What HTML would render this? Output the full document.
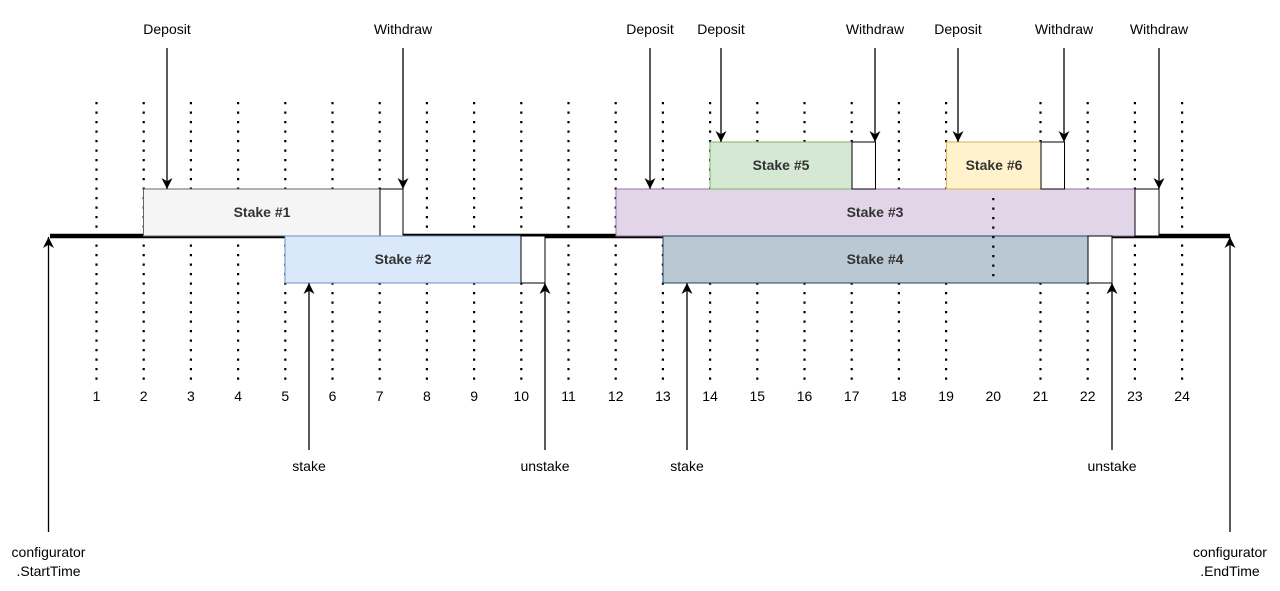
<!DOCTYPE html>
<html><head><meta charset="utf-8"><style>
html,body{margin:0;padding:0;background:#fff;}
svg{display:block;}
text{font-family:"Liberation Sans",Arial,sans-serif;}
</style></head><body>
<svg width="1280" height="591" viewBox="0 0 1280 591" xmlns="http://www.w3.org/2000/svg">
<defs>
<marker id="a" viewBox="0 0 10 10" refX="10" refY="5" markerWidth="11" markerHeight="11" orient="auto" markerUnits="userSpaceOnUse">
<path d="M0,0 L10,5 L0,10 L3,5 z" fill="#000"/>
</marker>
</defs>
<g stroke="#000" stroke-width="2.2" stroke-dasharray="2.2 7.3">
<line x1="96.5" y1="102" x2="96.5" y2="380"/>
<line x1="143.7" y1="102" x2="143.7" y2="380"/>
<line x1="190.9" y1="102" x2="190.9" y2="380"/>
<line x1="238.1" y1="102" x2="238.1" y2="380"/>
<line x1="285.3" y1="102" x2="285.3" y2="380"/>
<line x1="332.5" y1="102" x2="332.5" y2="380"/>
<line x1="379.7" y1="102" x2="379.7" y2="380"/>
<line x1="426.9" y1="102" x2="426.9" y2="380"/>
<line x1="474.1" y1="102" x2="474.1" y2="380"/>
<line x1="521.3" y1="102" x2="521.3" y2="380"/>
<line x1="568.5" y1="102" x2="568.5" y2="380"/>
<line x1="615.7" y1="102" x2="615.7" y2="380"/>
<line x1="662.9" y1="102" x2="662.9" y2="380"/>
<line x1="710.1" y1="102" x2="710.1" y2="380"/>
<line x1="757.3" y1="102" x2="757.3" y2="380"/>
<line x1="804.5" y1="102" x2="804.5" y2="380"/>
<line x1="851.7" y1="102" x2="851.7" y2="380"/>
<line x1="898.9" y1="102" x2="898.9" y2="380"/>
<line x1="946.1" y1="102" x2="946.1" y2="380"/>
<line x1="1040.5" y1="102" x2="1040.5" y2="380"/>
<line x1="1087.7" y1="102" x2="1087.7" y2="380"/>
<line x1="1134.9" y1="102" x2="1134.9" y2="380"/>
<line x1="1182.1" y1="102" x2="1182.1" y2="380"/>
</g>
<line x1="50" y1="236" x2="1230" y2="236" stroke="#000" stroke-width="4.5"/>
<rect x="143.5" y="189" width="236.5" height="47" fill="#f5f5f5" stroke="#666"/>
<rect x="380" y="189" width="23" height="47" fill="#fff" stroke="#000"/>
<rect x="285" y="236" width="236" height="47" fill="#dae8fc" stroke="#6c8ebf"/>
<rect x="521" y="236" width="24" height="47" fill="#fff" stroke="#000"/>
<rect x="616" y="189" width="519" height="47" fill="#e1d5e7" stroke="#9673a6"/>
<rect x="1135" y="189" width="24" height="47" fill="#fff" stroke="#000"/>
<rect x="663" y="236" width="425" height="47" fill="#bac8d3" stroke="#23445d"/>
<rect x="1088" y="236" width="24" height="47" fill="#fff" stroke="#000"/>
<rect x="710" y="142" width="142" height="47" fill="#d5e8d4" stroke="#82b366"/>
<rect x="852" y="142" width="23.5" height="47" fill="#fff" stroke="#000"/>
<rect x="946.5" y="142" width="94.5" height="47" fill="#fff2cc" stroke="#d6b656"/>
<rect x="1041" y="142" width="23.5" height="47" fill="#fff" stroke="#000"/>
<line x1="993.3" y1="198" x2="993.3" y2="283" stroke="#000" stroke-width="2.2" stroke-dasharray="2.2 7.3"/>
<g font-weight="bold" font-size="14" fill="#333" text-anchor="middle">
<text x="262" y="217">Stake #1</text>
<text x="403" y="264">Stake #2</text>
<text x="875" y="217">Stake #3</text>
<text x="875" y="264">Stake #4</text>
<text x="781" y="170">Stake #5</text>
<text x="994" y="170">Stake #6</text>
</g>
<g stroke="#000" stroke-width="1.3" marker-end="url(#a)">
<line x1="167" y1="48" x2="167" y2="189"/>
<line x1="403" y1="48" x2="403" y2="189"/>
<line x1="650" y1="48" x2="650" y2="189"/>
<line x1="721" y1="48" x2="721" y2="142"/>
<line x1="875" y1="48" x2="875" y2="142"/>
<line x1="958" y1="48" x2="958" y2="142"/>
<line x1="1064" y1="48" x2="1064" y2="142"/>
<line x1="1159" y1="48" x2="1159" y2="189"/>
<line x1="309" y1="450" x2="309" y2="283"/>
<line x1="545" y1="450" x2="545" y2="283"/>
<line x1="687" y1="450" x2="687" y2="283"/>
<line x1="1112" y1="450" x2="1112" y2="283"/>
<line x1="48.5" y1="532" x2="48.5" y2="237"/>
<line x1="1230" y1="532" x2="1230" y2="237"/>
</g>
<g font-size="14" fill="#000" text-anchor="middle">
<text x="167" y="34">Deposit</text>
<text x="403" y="34">Withdraw</text>
<text x="650" y="34">Deposit</text>
<text x="721" y="34">Deposit</text>
<text x="875" y="34">Withdraw</text>
<text x="958" y="34">Deposit</text>
<text x="1064" y="34">Withdraw</text>
<text x="1159" y="34">Withdraw</text>
<text x="309" y="471">stake</text>
<text x="545" y="471">unstake</text>
<text x="687" y="471">stake</text>
<text x="1112" y="471">unstake</text>
<text x="48.5" y="557">configurator</text>
<text x="48.5" y="576">.StartTime</text>
<text x="1230" y="557">configurator</text>
<text x="1230" y="576">.EndTime</text>
</g>
<g font-size="14" fill="#000" text-anchor="middle">
<text x="96.5" y="401">1</text><text x="143.7" y="401">2</text><text x="190.9" y="401">3</text><text x="238.1" y="401">4</text>
<text x="285.3" y="401">5</text><text x="332.5" y="401">6</text><text x="379.7" y="401">7</text><text x="426.9" y="401">8</text>
<text x="474.1" y="401">9</text><text x="521.3" y="401">10</text><text x="568.5" y="401">11</text><text x="615.7" y="401">12</text>
<text x="662.9" y="401">13</text><text x="710.1" y="401">14</text><text x="757.3" y="401">15</text><text x="804.5" y="401">16</text>
<text x="851.7" y="401">17</text><text x="898.9" y="401">18</text><text x="946.1" y="401">19</text><text x="993.3" y="401">20</text>
<text x="1040.5" y="401">21</text><text x="1087.7" y="401">22</text><text x="1134.9" y="401">23</text><text x="1182.1" y="401">24</text>
</g>
</svg>
</body></html>
